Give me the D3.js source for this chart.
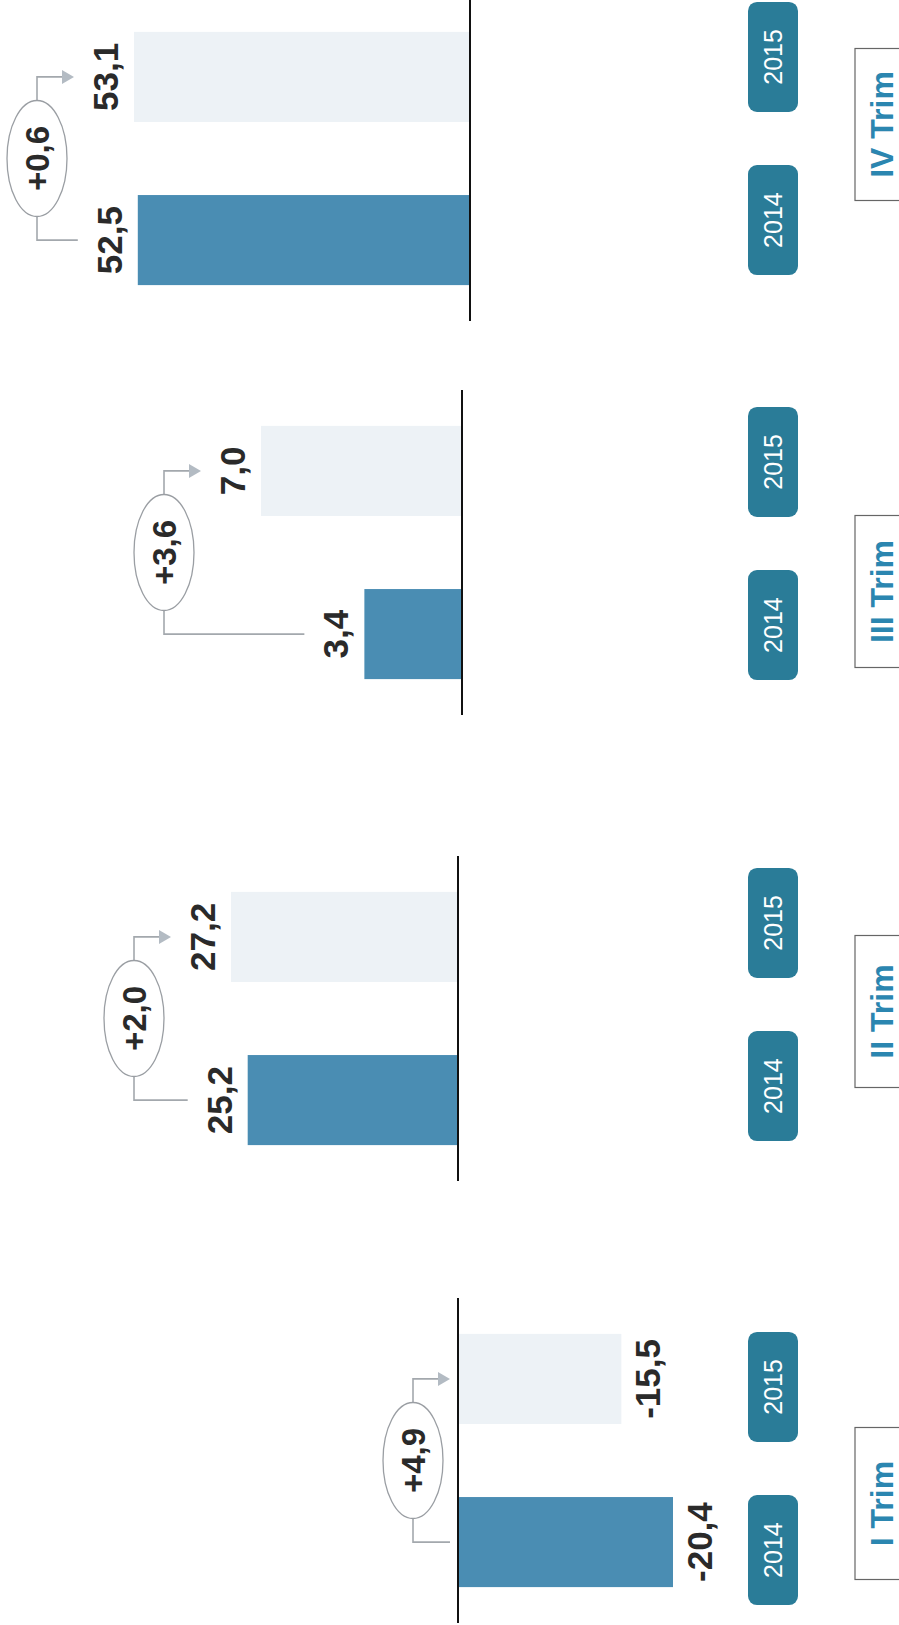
<!DOCTYPE html>
<html>
<head>
<meta charset="utf-8">
<script src="https://cdn.jsdelivr.net/npm/d3@7"></script>
<style>
  html, body { margin: 0; padding: 0; background: #fff; }
  svg { display: block; }
</style>
</head>
<body>
<div id="chart"></div>
<script>
// data
const quarters = ['I Trim', 'II Trim', 'III Trim', 'IV Trim'];
const years = ['2014', '2015'];
const values2014 = [-20.4, 25.2, 3.4, 52.5];
const values2015 = [-15.5, 27.2, 7.0, 53.1];

// page is 899 x 1625, chart is drawn lying on its side (rotated -90deg)
const pageW = 899, pageH = 1625;

// layout of each small panel (unrotated coordinates)
const panelStart = [2, 444, 910, 1304];
const panelLen = 325;
const baseY = [458, 458, 462, 470];
const barSpan = [215, 227, 201, 336];   // px used by the biggest bar of each panel
const tagShift = [-8, 14, 9, 20];       // year tags are not quite under the bars
const trimShift = [-43, 7, -39, 34];    // nor are the quarter boxes

const colBar14 = '#4a8db3';
const colBar15 = '#edf2f6';
const colTag = '#2a7c98';
const colTrim = '#2b86b0';
const font = 'Liberation Sans, Arial, sans-serif';

const locale = d3.formatLocale({ decimal: ',', thousands: '.', grouping: [3], currency: ['', '€'], minus: '-' });
const fmt = locale.format('.1f');
const fmtDelta = locale.format('+.1f');

const svg = d3.select('#chart')
  .append('svg')
  .attr('width', pageW)
  .attr('height', pageH);

const root = svg.append('g')
  .attr('transform', `translate(0,${pageH}) rotate(-90)`);

quarters.forEach((q, i) => {
  const vals = [values2014[i], values2015[i]];
  const maxAbs = d3.max(vals, v => Math.abs(v));
  const start = panelStart[i];
  const base = baseY[i];

  const x = d3.scaleBand()
    .domain(years)
    .range([start, start + panelLen])
    .paddingInner(0.448)
    .paddingOuter(0.22);

  // linear scale extrapolates for negative values
  const y = d3.scaleLinear()
    .domain([0, maxAbs])
    .range([base, base - barSpan[i]]);

  const g = root.append('g').attr('class', 'panel');
  const rows = years.map((yr, k) => ({ year: yr, value: vals[k] }));

  // bars
  g.selectAll('rect.bar')
    .data(rows)
    .join('rect')
    .attr('class', 'bar')
    .attr('x', d => x(d.year))
    .attr('width', x.bandwidth())
    .attr('y', d => Math.min(y(d.value), y(0)))
    .attr('height', d => Math.abs(y(d.value) - y(0)))
    .attr('fill', d => d.year === '2014' ? colBar14 : colBar15);

  // baseline
  g.append('line')
    .attr('x1', start).attr('x2', start + panelLen)
    .attr('y1', y(0)).attr('y2', y(0))
    .attr('stroke', '#111')
    .attr('stroke-width', 2);

  // value labels
  g.selectAll('text.val')
    .data(rows)
    .join('text')
    .attr('class', 'val')
    .attr('x', d => x(d.year) + x.bandwidth() / 2)
    .attr('y', d => d.value >= 0 ? y(d.value) - 16 : y(d.value) + 39)
    .attr('text-anchor', 'middle')
    .attr('font-family', font)
    .attr('font-size', 35)
    .attr('font-weight', 'bold')
    .attr('fill', '#2a2a2a')
    .text(d => fmt(d.value));

  // change bubble with bracket and arrow
  const c14 = x('2014') + x.bandwidth() / 2;
  const c15 = x('2015') + x.bandwidth() / 2;
  const cx = (c14 + c15) / 2;
  const armEnd = rows.map(d => d.value >= 0 ? y(d.value) - 60 : y(0) - 8);
  const cy = d3.min(armEnd) - 37;
  const rx = 58, ry = 30, arrowLen = 12;

  g.append('path')
    .attr('d', `M${c14},${armEnd[0]} V${cy} H${cx - rx} M${cx + rx},${cy} H${c15} V${armEnd[1] - arrowLen}`)
    .attr('fill', 'none')
    .attr('stroke', '#a3a8ad')
    .attr('stroke-width', 1.6);

  g.append('path')
    .attr('d', `M${c15 - 7},${armEnd[1] - arrowLen} L${c15 + 7},${armEnd[1] - arrowLen} L${c15},${armEnd[1]} Z`)
    .attr('fill', '#b3bbc3');

  g.append('ellipse')
    .attr('cx', cx).attr('cy', cy)
    .attr('rx', rx).attr('ry', ry)
    .attr('fill', '#fff')
    .attr('stroke', '#9a9ea3')
    .attr('stroke-width', 1.3);

  g.append('text')
    .attr('x', cx).attr('y', cy)
    .attr('dy', '0.36em')
    .attr('text-anchor', 'middle')
    .attr('font-family', font)
    .attr('font-size', 33)
    .attr('font-weight', 'bold')
    .attr('fill', '#2a2a2a')
    .text(fmtDelta(vals[1] - vals[0]));

  // year tags
  const tag = g.selectAll('g.tag')
    .data(years)
    .join('g')
    .attr('class', 'tag')
    .attr('transform', d => `translate(${x(d) + x.bandwidth() / 2 + tagShift[i]},773)`);

  tag.append('rect')
    .attr('x', -55).attr('y', -25)
    .attr('width', 110).attr('height', 50)
    .attr('rx', 9)
    .attr('fill', colTag);

  tag.append('text')
    .attr('text-anchor', 'middle')
    .attr('dy', '0.36em')
    .attr('font-family', font)
    .attr('font-size', 25)
    .attr('fill', '#fff')
    .text(d => d);

  // quarter box
  const tx = cx + trimShift[i];
  g.append('rect')
    .attr('x', tx - 76).attr('y', 855)
    .attr('width', 152).attr('height', 60)
    .attr('fill', '#fff')
    .attr('stroke', '#666')
    .attr('stroke-width', 1.2);

  g.append('text')
    .attr('x', tx).attr('y', 893)
    .attr('text-anchor', 'middle')
    .attr('font-family', font)
    .attr('font-size', 32)
    .attr('font-weight', 'bold')
    .attr('fill', colTrim)
    .text(q);
});
</script>
</body>
</html>
